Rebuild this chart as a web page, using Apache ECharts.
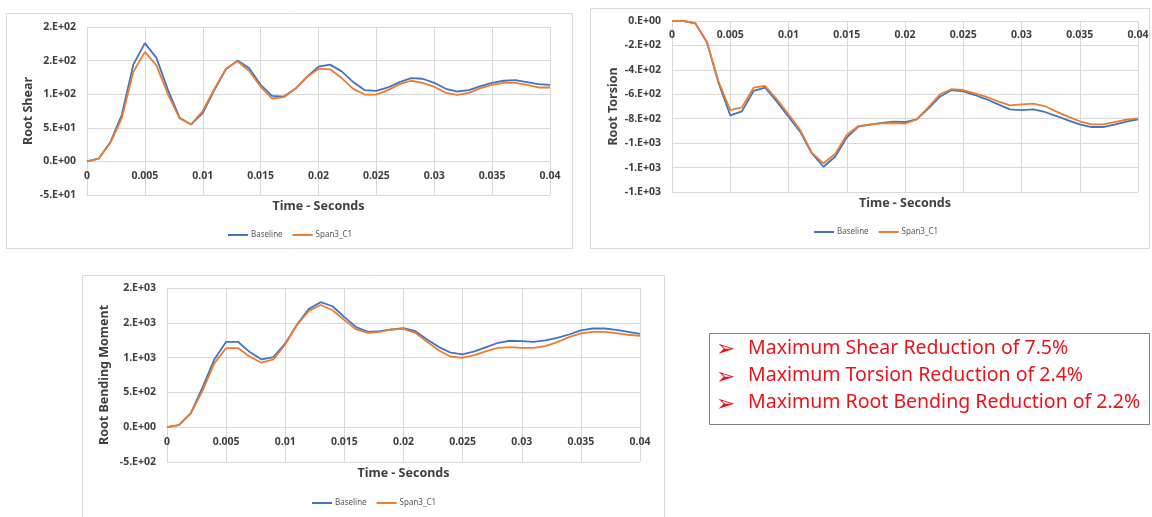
<!DOCTYPE html>
<html>
<head>
<meta charset="utf-8">
<script src="https://cdn.jsdelivr.net/npm/echarts@6/dist/echarts.min.js"></script>
<style>
  html, body { margin: 0; padding: 0; background: #ffffff; }
  #chart { width: 1152px; height: 517px; }
</style>
</head>
<body>
<div id="chart"></div>
<script>
// Sample times (s), one every millisecond
const timeSec = [
  0, 0.001, 0.002, 0.003, 0.004, 0.005, 0.006, 0.007, 0.008, 0.009,
  0.010, 0.011, 0.012, 0.013, 0.014, 0.015, 0.016, 0.017, 0.018, 0.019,
  0.020, 0.021, 0.022, 0.023, 0.024, 0.025, 0.026, 0.027, 0.028, 0.029,
  0.030, 0.031, 0.032, 0.033, 0.034, 0.035, 0.036, 0.037, 0.038, 0.039, 0.040
];
const timeTickLabels = ['0', '0.005', '0.01', '0.015', '0.02', '0.025', '0.03', '0.035', '0.04'];

// Root shear
const shearBaseline = [
  0, 4, 28, 69, 144, 176, 154, 106, 65, 55,
  72, 106, 137, 150, 139, 114, 97.5, 96.5, 108, 125.6,
  141, 144, 134, 118, 106, 105, 110, 118, 124, 123,
  117, 108, 104, 106, 112, 117, 120, 121, 118, 115, 114
];
const shearSpan3 = [
  0, 4, 27, 64, 133, 163, 143, 99.5, 64, 55,
  75, 108, 138, 149, 135, 111, 93.6, 95.6, 108, 125.6,
  138, 137, 124, 108, 99.5, 99.5, 106, 115, 120, 117,
  111, 102, 99, 102, 109, 114, 117, 117, 114, 110, 110
];
const shearTickLabels = ['-5.E+01', '0.E+00', '5.E+01', '1.E+02', '2.E+02', '2.E+02'];

// Root torsion
const torsionBaseline = [
  0, 0, -19, -175, -510, -772, -740, -573, -546, -660,
  -783, -906, -1083, -1193, -1111, -955, -865, -849, -835, -824,
  -827, -805, -718, -620, -565, -576, -606, -641, -682, -723,
  -729, -723, -745, -778, -813, -846, -868, -868, -849, -824, -805
];
const torsionSpan3 = [
  0, 0, -19, -172, -497, -729, -707, -546, -532, -641,
  -764, -892, -1078, -1165, -1089, -933, -860, -846, -838, -835,
  -841, -805, -707, -600, -557, -565, -592, -622, -658, -690,
  -682, -677, -696, -742, -783, -821, -846, -846, -827, -808, -797
];
const torsionTickLabels = ['-1.E+03', '-1.E+03', '-1.E+03', '-8.E+02', '-6.E+02', '-4.E+02', '-2.E+02', '0.E+00'];

// Root bending moment
const bendingBaseline = [
  0, 29, 200, 568, 974, 1227, 1227, 1079, 974, 1008,
  1204, 1476, 1700, 1796, 1738, 1581, 1438, 1371, 1380, 1404,
  1423, 1380, 1261, 1151, 1070, 1046, 1089, 1151, 1213, 1242,
  1237, 1227, 1247, 1285, 1332, 1390, 1418, 1418, 1399, 1371, 1342
];
const bendingSpan3 = [
  0, 29, 195, 521, 917, 1137, 1137, 1013, 927, 974,
  1189, 1471, 1672, 1756, 1681, 1538, 1404, 1356, 1371, 1404,
  1414, 1356, 1227, 1103, 1013, 998, 1036, 1094, 1141, 1151,
  1141, 1141, 1165, 1223, 1294, 1347, 1371, 1371, 1352, 1328, 1313
];
const bendingTickLabels = ['-5.E+02', '0.E+00', '5.E+02', '1.E+03', '2.E+03', '2.E+03'];

const seriesNames = ['Baseline', 'Span3_C1'];
const reductionNotes = [
  'Maximum Shear Reduction of 7.5%',
  'Maximum Torsion Reduction of 2.4%',
  'Maximum Root Bending Reduction of 2.2%'
];

const BLUE = '#4472C4';
const ORANGE = '#ED7D31';
const GRID_GRAY = '#d9d9d9';
const TEXT_DARK = '#404040';
const NOTE_RED = '#e8141c';
const FONT = 'Noto Sans';

function pairs(values) {
  return values.map((v, i) => [timeSec[i], v]);
}

// One panel: grid geometry, y range, tick text, axis titles
const panels = [
  { grid: { left: 87, top: 27, width: 463, height: 168 },
    min: -50, max: 200, interval: 50, ticks: shearTickLabels,
    yName: 'Root Shear', yNameGap: 52,
    data: [shearBaseline, shearSpan3],
    legend: { left: 228, top: 231 } },
  { grid: { left: 672, top: 21, width: 466, height: 171 },
    min: -1400, max: 0, interval: 200, ticks: torsionTickLabels,
    yName: 'Root Torsion', yNameGap: 52,
    data: [torsionBaseline, torsionSpan3],
    legend: { left: 814, top: 228 } },
  { grid: { left: 167, top: 288, width: 473, height: 174 },
    min: -500, max: 2000, interval: 500, ticks: bendingTickLabels,
    yName: 'Root Bending Moment', yNameGap: 56,
    data: [bendingBaseline, bendingSpan3],
    legend: { left: 312, top: 499 } }
];

const grids = [], xAxes = [], yAxes = [], series = [], legends = [];

panels.forEach((p, k) => {
  grids.push(Object.assign({ containLabel: false }, p.grid));
  // the time axis sits on the zero line of its panel, labels included
  const zeroRise = p.grid.height * (0 - p.min) / (p.max - p.min);
  xAxes.push({
    type: 'value', gridIndex: k, min: 0, max: 0.04, interval: 0.005,
    position: 'bottom', offset: -zeroRise,
    name: 'Time - Seconds', nameLocation: 'middle', nameGap: zeroRise + 5,
    nameMoveOverlap: false,
    nameTextStyle: { fontFamily: FONT, fontSize: 12.5, fontWeight: 'bold', color: TEXT_DARK },
    axisLine: { onZero: false, lineStyle: { color: GRID_GRAY, width: 1 } },
    axisTick: { show: false },
    axisLabel: {
      margin: 9, fontFamily: FONT, fontSize: 10.5, fontWeight: 'bold', color: TEXT_DARK,
      formatter: v => timeTickLabels[Math.round(v / 0.005)]
    },
    splitLine: { show: true, lineStyle: { color: GRID_GRAY, width: 1 } }
  });
  yAxes.push({
    type: 'value', gridIndex: k, min: p.min, max: p.max, interval: p.interval,
    name: p.yName, nameLocation: 'middle', nameGap: p.yNameGap, nameRotate: 90,
    nameTextStyle: { fontFamily: FONT, fontSize: 12.5, fontWeight: 'bold', color: TEXT_DARK },
    axisLine: { show: false },
    axisTick: { show: false },
    axisLabel: {
      margin: 11, fontFamily: FONT, fontSize: 10.5, fontWeight: 'bold', color: TEXT_DARK,
      formatter: v => p.ticks[Math.round((v - p.min) / p.interval)]
    },
    splitLine: { show: true, lineStyle: { color: GRID_GRAY, width: 1 } }
  });
  p.data.forEach((vals, j) => {
    series.push({
      type: 'line', name: seriesNames[j], xAxisIndex: k, yAxisIndex: k,
      data: pairs(vals), symbol: 'none', smooth: false,
      lineStyle: { width: 1.8, color: j === 0 ? BLUE : ORANGE },
      itemStyle: { color: j === 0 ? BLUE : ORANGE },
      z: j === 0 ? 3 : 4, animation: false
    });
  });
  legends.push({
    data: seriesNames, left: p.legend.left, top: p.legend.top, padding: 0,
    icon: 'rect', itemWidth: 20, itemHeight: 2, itemGap: 10,
    textStyle: { fontFamily: FONT, fontSize: 8, color: '#595959', padding: [0, 0, 0, -2] },
    selectedMode: false
  });
});

// Chart frames and the summary box
const graphics = [
  { type: 'rect', shape: { x: 6.5, y: 13.5, width: 566, height: 235 },
    style: { fill: 'none', stroke: GRID_GRAY, lineWidth: 1 }, z: -1 },
  { type: 'rect', shape: { x: 590.5, y: 8.5, width: 559, height: 240 },
    style: { fill: 'none', stroke: GRID_GRAY, lineWidth: 1 }, z: -1 },
  { type: 'rect', shape: { x: 82.5, y: 275.5, width: 582, height: 250 },
    style: { fill: 'none', stroke: GRID_GRAY, lineWidth: 1 }, z: -1 },
  { type: 'rect', shape: { x: 709.5, y: 333.5, width: 440, height: 91 },
    style: { fill: 'none', stroke: '#7f7f7f', lineWidth: 1 }, z: -1 }
];
reductionNotes.forEach((line, i) => {
  const cy = 352 + i * 27.3;
  graphics.push({
    type: 'text', left: 716, top: cy - 13,
    style: { text: '\u27A2', fill: NOTE_RED, font: '23px "DejaVu Sans"' }
  });
  graphics.push({
    type: 'text', left: 748, top: cy - 14,
    style: { text: line, fill: NOTE_RED, font: '19.5px "Noto Sans"' }
  });
});

const chart = echarts.init(document.getElementById('chart'), null, { renderer: 'canvas' });
chart.setOption({
  backgroundColor: '#ffffff',
  animation: false,
  grid: grids,
  xAxis: xAxes,
  yAxis: yAxes,
  legend: legends,
  series: series,
  graphic: graphics
});
</script>
</body>
</html>
